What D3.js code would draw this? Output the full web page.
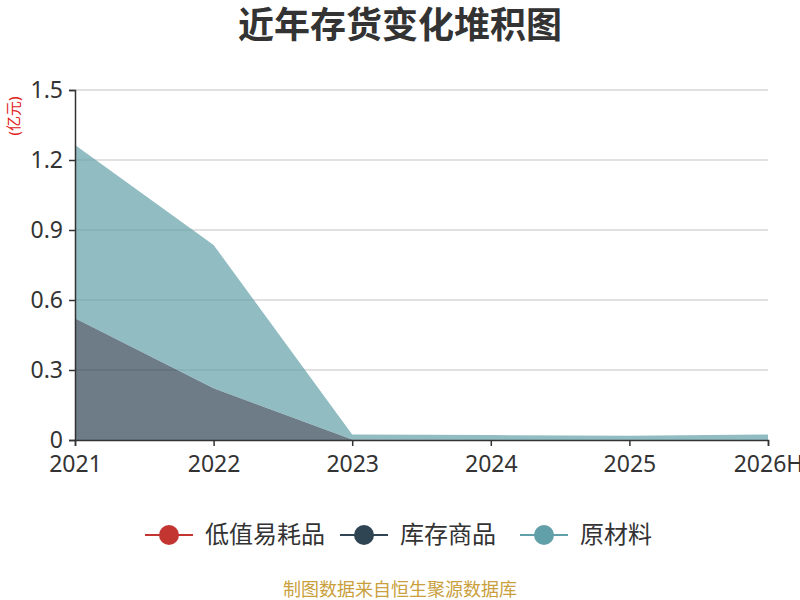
<!DOCTYPE html>
<html>
<head>
<meta charset="utf-8">
<script src="https://cdn.jsdelivr.net/npm/d3@7/dist/d3.min.js"></script>
<style>
  body { margin: 0; background: #fff; }
  text { font-family: "Noto Sans", "Noto Sans CJK SC", sans-serif; }
</style>
</head>
<body>
<script>
const years = ['2021', '2022', '2023', '2024', '2025', '2026H'];
const seriesNames = ['低值易耗品', '库存商品', '原材料'];
const lowValue = [0, 0, 0, 0, 0, 0];
const goods = [0.522, 0.222, 0.002, 0, 0, 0];
const material = [0.742, 0.614, 0.022, 0.021, 0.018, 0.024];
const yTicks = [0, 0.3, 0.6, 0.9, 1.2, 1.5];
const colors = ['#c23531', '#2f4554', '#61a0a8'];

const W = 800, H = 600;
const margin = { left: 75, right: 32, top: 90, bottom: 160 };

const rows = years.map((y, i) => ({
  year: y,
  [seriesNames[0]]: lowValue[i],
  [seriesNames[1]]: goods[i],
  [seriesNames[2]]: material[i]
}));

const svg = d3.select('body').append('svg').attr('width', W).attr('height', H);

const x = d3.scalePoint().domain(years).range([margin.left, W - margin.right]);
const y = d3.scaleLinear().domain([0, 1.5]).range([H - margin.bottom, margin.top]);

// title
svg.append('text')
  .attr('x', W / 2).attr('y', 38)
  .attr('text-anchor', 'middle')
  .attr('font-size', 36).attr('font-weight', 'bold')
  .attr('fill', '#333')
  .text('近年存货变化堆积图');

// grid
svg.append('g')
  .selectAll('line')
  .data(yTicks.filter((d) => d > 0))
  .join('line')
  .attr('x1', margin.left).attr('x2', W - margin.right)
  .attr('y1', (d) => y(d)).attr('y2', (d) => y(d))
  .attr('stroke', '#c4c4c4').attr('stroke-width', 1.2);

// stacked areas
const stack = d3.stack().keys(seriesNames);
const layers = stack(rows);
const area = d3.area()
  .x((d) => x(d.data.year))
  .y0((d) => y(d[0]))
  .y1((d) => y(d[1]));

svg.append('g')
  .selectAll('path')
  .data(layers)
  .join('path')
  .attr('d', area)
  .attr('fill', (d, i) => colors[i])
  .attr('fill-opacity', 0.7);

// y axis
const yAxis = svg.append('g')
  .attr('transform', `translate(${margin.left},0)`)
  .call(d3.axisLeft(y).tickValues(yTicks).tickFormat((d) => (d === 0 ? '0' : d3.format('.1f')(d))).tickSizeOuter(0).tickSize(6).tickPadding(6));
yAxis.select('.domain').attr('stroke', '#333').attr('stroke-width', 1.5);
yAxis.selectAll('.tick line').attr('stroke', '#333').attr('stroke-width', 1.5);
yAxis.selectAll('.tick text').attr('font-size', 23).attr('fill', '#333')
  .style('font-family', '"Noto Sans", sans-serif');

// x axis
const xAxis = svg.append('g')
  .attr('transform', `translate(0,${y(0)})`)
  .call(d3.axisBottom(x).tickSizeOuter(0).tickSize(6).tickPadding(10));
xAxis.select('.domain').attr('stroke', '#333').attr('stroke-width', 1.5);
xAxis.selectAll('.tick line').attr('stroke', '#333').attr('stroke-width', 1.5);
xAxis.selectAll('.tick text').attr('font-size', 23).attr('fill', '#333')
  .style('font-family', '"Noto Sans", sans-serif');

// unit label
svg.append('text')
  .attr('transform', 'translate(19,116) rotate(-90)')
  .attr('text-anchor', 'middle')
  .attr('font-size', 15).attr('fill', '#e02020')
  .text('(亿元)');

// legend
const legendX = [145, 340, 520];
const legend = svg.append('g')
  .selectAll('g')
  .data(seriesNames)
  .join('g')
  .attr('transform', (d, i) => `translate(${legendX[i]},535)`);
legend.append('line')
  .attr('x1', 0).attr('x2', 48)
  .attr('stroke', (d, i) => colors[i]).attr('stroke-width', 2);
legend.append('circle')
  .attr('cx', 24).attr('r', 10)
  .attr('fill', (d, i) => colors[i]);
legend.append('text')
  .attr('x', 60).attr('dy', '0.35em')
  .attr('font-size', 24).attr('fill', '#333')
  .text((d) => d);

// source
svg.append('text')
  .attr('x', W / 2).attr('y', 596)
  .attr('text-anchor', 'middle')
  .attr('font-size', 18).attr('fill', '#c9a03c')
  .text('制图数据来自恒生聚源数据库');
</script>
</body>
</html>
